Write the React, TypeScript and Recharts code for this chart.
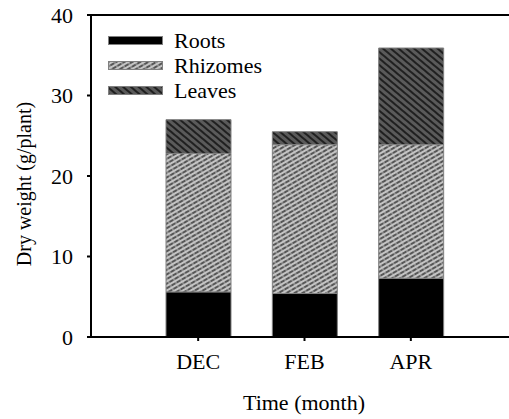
import React from "react";
import { Bar, BarChart, Label, ReferenceLine, XAxis, YAxis } from "recharts";

// values (g/plant), stacked bottom to top
const months = ["DEC", "FEB", "APR"];
const roots = [5.6, 5.4, 7.3];
const rhizomes = [17.2, 18.5, 16.6];
const leaves = [4.2, 1.6, 12.0];
const yTicks = [0, 10, 20, 30, 40];

const FONT = "'Liberation Serif', 'Times New Roman', serif";

const data = months.map((m, i) => ({
  month: m,
  roots: roots[i],
  rhizomes: rhizomes[i],
  leaves: leaves[i],
}));

const SERIES = [
  { key: "roots", name: "Roots", fill: "#000" },
  { key: "rhizomes", name: "Rhizomes", fill: "url(#rhizPat)" },
  { key: "leaves", name: "Leaves", fill: "url(#leafPat)" },
];

function Patterns() {
  return (
    <defs>
      <pattern id="rhizPat" width="6" height="4" patternUnits="userSpaceOnUse" patternTransform="rotate(-30)">
        <rect width="6" height="4" fill="#c4c4c4" />
        <line x1="0" y1="1" x2="4" y2="1" stroke="#1a1a1a" strokeWidth="1.3" />
        <line x1="4" y1="1" x2="6" y2="1" stroke="#777" strokeWidth="1.3" />
      </pattern>
      <pattern id="leafPat" width="5" height="5" patternUnits="userSpaceOnUse" patternTransform="rotate(40)">
        <rect width="5" height="5" fill="#5a5a5a" />
        <line x1="0" y1="1" x2="5" y2="1" stroke="#111" strokeWidth="1.6" />
      </pattern>
    </defs>
  );
}

// legend drawn as an overlay inside the plot's upper-left corner
function LegendBox() {
  return (
    <svg width={200} height={90} style={{ position: "absolute", left: 108, top: 26 }}>
      {SERIES.map((s, i) => (
        <g key={s.key} transform={`translate(0, ${10 + i * 25})`}>
          <rect x={0.5} y={0.5} width={54} height={8} fill={s.fill} stroke="#808080" />
          <text x={66} y={12} fontFamily={FONT} fontSize={22} fill="#000">
            {s.name}
          </text>
        </g>
      ))}
    </svg>
  );
}

export default function App() {
  return (
    <div style={{ position: "absolute", left: 0, top: 0, width: 509, height: 419, background: "#fff" }}>
      <svg width={0} height={0} style={{ position: "absolute" }}>
        <Patterns />
      </svg>
      <BarChart width={509} height={419} data={data} margin={{ top: 15, right: 0, bottom: 0, left: 0 }}>
        <XAxis
          dataKey="month"
          height={82}
          padding={{ left: 54, right: 45 }}
          tickSize={4}
          tickMargin={12}
          axisLine={{ stroke: "#000", strokeWidth: 2 }}
          tickLine={{ stroke: "#000", strokeWidth: 2 }}
          tick={{ fill: "#000", fontFamily: FONT, fontSize: 22 }}
        >
          <Label
            content={({ viewBox }: any) => (
              <text
                x={viewBox.x + viewBox.width / 2 + 4}
                y={410}
                textAnchor="middle"
                fontFamily={FONT}
                fontSize={22}
                fill="#000"
              >
                Time (month)
              </text>
            )}
          />
        </XAxis>
        <YAxis
          width={91}
          domain={[0, 40]}
          ticks={yTicks}
          interval={0}
          tickSize={4}
          tickMargin={14}
          axisLine={{ stroke: "#000", strokeWidth: 2 }}
          tickLine={{ stroke: "#000", strokeWidth: 2 }}
          tick={{ fill: "#000", fontFamily: FONT, fontSize: 22 }}
        >
          <Label
            content={({ viewBox }: any) => {
              const cy = viewBox.y + viewBox.height / 2 + 8;
              return (
                <text
                  x={31}
                  y={cy}
                  transform={`rotate(-90, 31, ${cy})`}
                  textAnchor="middle"
                  fontFamily={FONT}
                  fontSize={20}
                  fill="#000"
                >
                  Dry weight (g/plant)
                </text>
              );
            }}
          />
        </YAxis>
        <ReferenceLine y={40} stroke="#000" strokeWidth={2} ifOverflow="extendDomain" />
        {SERIES.map((s) => (
          <Bar
            key={s.key}
            dataKey={s.key}
            name={s.name}
            stackId="a"
            fill={s.fill}
            stroke="#808080"
            strokeWidth={1}
            barSize={65}
            isAnimationActive={false}
          />
        ))}
      </BarChart>
      <LegendBox />
    </div>
  );
}
